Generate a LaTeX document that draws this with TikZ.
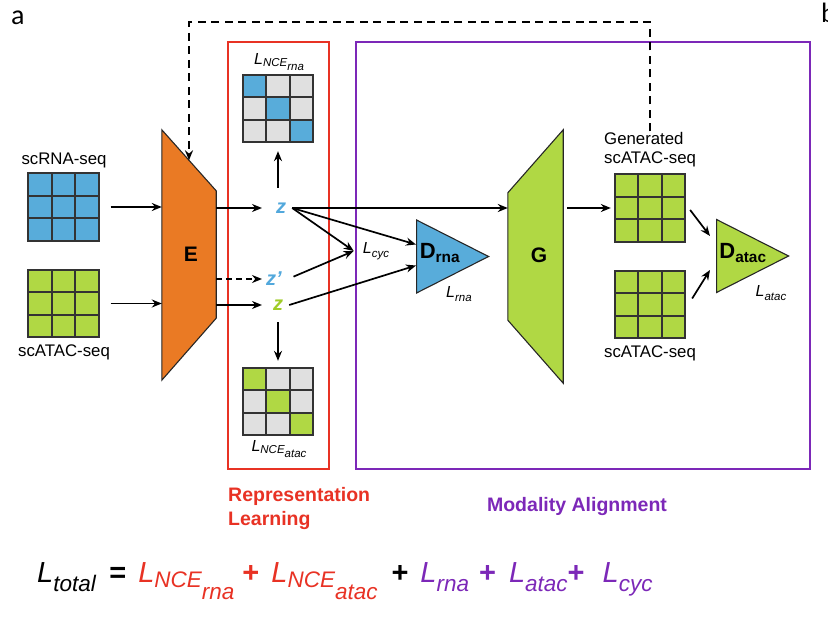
\documentclass[tikz,border=0pt]{standalone}
\usepackage{fontspec}
\setmainfont{Liberation Sans}
\newfontfamily\panelfont{Carlito}
\usetikzlibrary{shapes.geometric}
\usetikzlibrary{arrows.meta}
\usetikzlibrary{calc}
\usepackage{xcolor}
\definecolor{rnablue}{RGB}{88,172,218}
\definecolor{atacgreen}{RGB}{176,216,68}
\definecolor{encorange}{RGB}{234,122,36}
\definecolor{nceGrey}{RGB}{224,224,224}
\definecolor{replred}{RGB}{232,50,36}
\definecolor{alignpurple}{RGB}{124,40,184}
\definecolor{zgreen}{RGB}{160,204,40}
\definecolor{zblue}{RGB}{82,168,220}
% loss with subscript, small (in the diagram) and large (total loss)
\newcommand{\Lsub}[2][3.5pt]{\textit{L}\raisebox{-#1}{\fontsize{11.5}{12}\selectfont\textit{#2}}}
\newcommand{\Lbig}[2][9pt]{\textit{L}\raisebox{-#1}{\fontsize{22.5}{24}\selectfont\textit{#2}}}

\begin{document}
\begin{tikzpicture}[x=1pt, y=-1pt,
arr/.style = {line width=1.7pt, -{Stealth[length=10pt,width=8pt]}},
feed/.style = {line width=2pt, dash pattern=on 8pt off 5.5pt},
cellline/.style = {draw=black!80, line width=1.6pt},
grid/.style = {draw=black!80, line width=1.8pt, minimum width=70.5pt,
            minimum height=67.5pt, inner sep=0pt},
seqlbl/.style = {font=\fontsize{16.8}{19}\selectfont, inner sep=1pt},
lsmall/.style = {font=\fontsize{16}{18}\selectfont, inner sep=1pt},
zlbl/.style = {font=\fontsize{20}{22}\selectfont\bfseries\itshape, inner sep=6pt},
dlbl/.style = {font=\fontsize{22}{24}\selectfont\bfseries, inner sep=0pt},
block/.style = {draw=black!85, line width=1.1pt},
tri/.style = {block, isosceles triangle, isosceles triangle stretches,
            minimum width=73pt, minimum height=72pt, inner sep=0pt},
box/.style = {line width=2.6pt},
title/.style = {font=\fontsize{19.5}{24}\selectfont\bfseries, inner sep=0pt}
                ]
    \useasboundingbox (0,0) rectangle (828,618);

    % panel letters
    \node[font=\panelfont\fontsize{28}{28}\selectfont, anchor=base west, inner sep=0pt] (pa) at (11,25) {a};
    \node[font=\panelfont\fontsize{28}{28}\selectfont, anchor=base west, inner sep=0pt] (pb) at (821,23) {b};

    % frames
    \draw[box, replred] (228,42) rectangle (329,469);
    \draw[box, alignpurple] (356,42) rectangle (810,469);

    % data grids
    \foreach \gx/\gy/\g/\on/\off in {63.5/207/rin/rnablue/rnablue, 63.5/303.5/ain/atacgreen/atacgreen,
        278/108.5/nrna/rnablue/nceGrey, 278/401.5/natac/atacgreen/nceGrey,
        650/208/gen/atacgreen/atacgreen, 650/304.5/areal/atacgreen/atacgreen}{
        \foreach \i in {-1,0,1}{
            \foreach \j in {-1,0,1}{
                \ifnum\i=\j \def\cc{\on}\else\def\cc{\off}\fi
                \filldraw[cellline, fill=\cc] (\gx+\i*23.5-11.75, \gy+\j*22.5-11.25) rectangle ++(23.5,22.5);
            }
        }
        \node[grid] (\g) at (\gx,\gy) {};
    }
    \node[seqlbl] (rinlbl) at (64,160) {scRNA-seq};
    \node[seqlbl] (ainlbl) at (64,352) {scATAC-seq};
    \node[seqlbl, align=left, anchor=west] (genlbl) at (603,150) {Generated\\scATAC-seq};
    \node[seqlbl] (areallbl) at (650,353) {scATAC-seq};
    \node[lsmall] (Lnrna) at (279,62) {\Lsub[2pt]{NCE\raisebox{-4pt}{rna}}};
    \node[lsmall] (Lnatac) at (279,449) {\Lsub[2pt]{NCE\raisebox{-4pt}{atac}}};

    % encoder and generator
    \node[minimum width=54pt, minimum height=250pt, inner sep=0pt] (E) at (189,255) {};
    \filldraw[block, fill=encorange] (E.north west) -- ([yshift=-61pt]E.north east)
        -- ([yshift=62pt]E.south east) -- (E.south west) -- cycle;
    \node[dlbl, font=\fontsize{21}{21}\selectfont\bfseries] (Elbl) at (191,254) {E};
    \coordinate (Etop) at ($(E.north west)!.5!([yshift=-61pt]E.north east)$);

    \node[minimum width=55pt, minimum height=253pt, inner sep=0pt] (G) at (535.5,256.5) {};
    \filldraw[block, fill=atacgreen] (G.north east) -- (G.south east)
        -- ([yshift=63pt]G.south west) -- ([yshift=-63pt]G.north west) -- cycle;
    \node[dlbl, font=\fontsize{21}{21}\selectfont\bfseries] (Glbl) at (539,255) {G};

    % discriminators
    \node[tri, fill=rnablue, anchor=lower side] (Drna) at (416,256.5) {};
    \node[tri, fill=atacgreen, anchor=lower side] (Datac) at (716,256) {};
    \node[dlbl] (DrnaL) at (440,253) {D\textsubscript{rna}};
    \node[dlbl] (DatacL) at (743,253) {D\textsubscript{atac}};
    \node[lsmall] (Lrna) at (459,294) {\Lsub{rna}};
    \node[lsmall] (Latac) at (771,293) {\Lsub{atac}};
    \node[lsmall, inner xsep=9pt] (Lcyc) at (376,251) {\Lsub{cyc}};

    % latent codes
    \node[zlbl, text=zblue] (zr) at (281,208) {z};
    \node[zlbl, text=zblue] (zp) at (274,279) {z'};
    \node[zlbl, text=zgreen] (za) at (278,305) {z};
    \coordinate (ztip) at (262,0);

    \draw[arr] ([xshift=11pt]rin.east) -- (rin.east -| E.west);
    \draw[arr] ([xshift=11pt]ain.east) -- (ain.east -| E.west);
    \draw[arr] (E.east |- zr) -- (zr -| ztip);
    \draw[arr, dash pattern=on 6pt off 4pt] (E.east |- zp) -- (zp -| ztip);
    \draw[arr] (E.east |- za) -- (za -| ztip);
    \draw[arr, shorten <=9pt, shorten >=8pt] (nrna.south |- zr.north) -- (nrna.south);
    \draw[arr, shorten <=6pt, shorten >=6pt] (natac.north |- za.south) -- (natac.north);

    \draw[arr] (zr.east) -- (zr.east -| G.west);
    \draw[arr] (zr.east) -- (Lcyc.west);
    \draw[arr, shorten <=6pt] (zp.east) -- (Lcyc.west);
    \draw[arr] (zr.east) -- ([yshift=12pt]Drna.lower side);
    \draw[arr] (za.east) -- ([yshift=-9pt]Drna.lower side);

    \draw[arr, shorten <=4pt, shorten >=3pt] (G.east |- gen.west) -- (gen.west);
    \draw[arr] ([xshift=4pt,yshift=-2pt]gen.east) -- ([xshift=-6pt,yshift=20pt]Datac.lower side);
    \draw[arr] ([xshift=6pt,yshift=6pt]areal.east) -- ([xshift=-6pt,yshift=-14pt]Datac.lower side);

    % feedback to encoder
    \draw[feed, -{Stealth[length=10pt,width=8pt]}] (genlbl.north) -- ++(0,-109) -| (Etop);

    % titles and total loss
    \node[title, text=replred, align=left, anchor=north west] (repl) at (228,487) {Representation\\Learning};
    \node[title, text=alignpurple] (modal) at (577,506) {Modality Alignment};
    \node[anchor=base west, inner sep=0pt, font=\fontsize{29}{32}\selectfont] (ltot) at (37,582)
        {\Lbig{total}\hspace{13pt}\textbf{=}\hspace{12pt}\textcolor{replred}{\Lbig[5pt]{NCE\raisebox{-12pt}{rna}}\hspace{8pt}\textbf{+}\hspace{12pt}\Lbig[5pt]{NCE\raisebox{-12pt}{atac}}}\hspace{14pt}\textbf{+}\hspace{12pt}\textcolor{alignpurple}{\Lbig{rna}\hspace{10pt}\textbf{+}\hspace{13pt}\Lbig{atac}\textbf{+}\hspace{18pt}\Lbig{cyc}}};
\end{tikzpicture}
\end{document}
